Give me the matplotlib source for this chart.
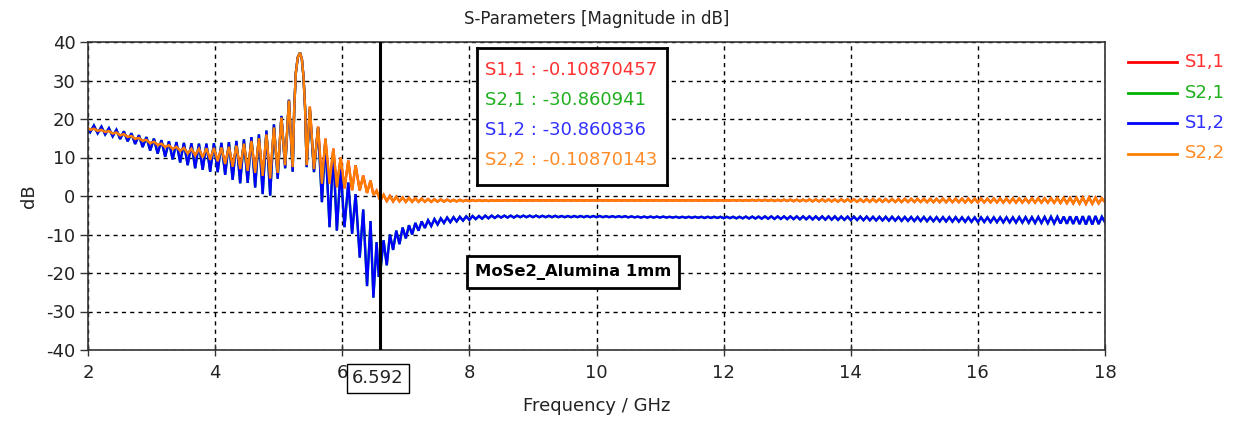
#!/usr/bin/env python3
"""S-parameter magnitude plot (MoSe2 on 1 mm alumina), redrawn in matplotlib."""

import numpy as np
import matplotlib
matplotlib.use("Agg")
import matplotlib.pyplot as plt
import matplotlib.transforms as mtransforms

# ---- data ------------------------------------------------------------------
# 2 - 6.6 GHz: peak / trough points of the ripple (GHz)
head_freq = [2.000, 2.034, 2.093, 2.152, 2.211, 2.270, 2.329, 2.388, 2.447, 2.506,
             2.565, 2.624, 2.683, 2.742, 2.801, 2.860, 2.919, 2.978, 3.037, 3.096,
             3.155, 3.214, 3.273, 3.332, 3.391, 3.450, 3.509, 3.568, 3.627, 3.686,
             3.745, 3.804, 3.863, 3.922, 3.981, 4.040, 4.099, 4.158, 4.217, 4.276,
             4.335, 4.394, 4.453, 4.512, 4.571, 4.630, 4.689, 4.748, 4.807, 4.866,
             4.925, 4.984, 5.043, 5.102, 5.161, 5.220, 5.245, 5.270, 5.300, 5.335,
             5.365, 5.390, 5.415, 5.440, 5.490, 5.555, 5.620, 5.680, 5.735, 5.800,
             5.860, 5.915, 5.975, 6.035, 6.095, 6.155, 6.210, 6.275, 6.330, 6.390,
             6.445, 6.490, 6.540, 6.575]

s12_head = [17.5, 16.6, 18.3, 16.3, 18.0, 16.0, 17.6, 15.5, 17.2, 14.8,
            16.8, 14.2, 16.3, 13.5, 15.8, 12.7, 15.3, 11.8, 14.9, 11.0,
            14.5, 10.2, 14.2, 9.5, 14.0, 8.7, 13.8, 8.0, 13.7, 7.2,
            13.6, 6.8, 13.6, 6.3, 13.7, 6.2, 13.8, 5.5, 14.0, 4.2,
            14.3, 3.3, 14.7, 3.4, 15.3, 2.2, 16.0, 0.5, 17.0, 0.1,
            18.6, 4.5, 20.8, 7.2, 25.0, 6.3, 23.0, 32.0, 36.0, 37.2,
            35.5, 31.0, 23.0, 7.5, 22.5, 6.2, 17.8, -1.6, 14.5, -8.1,
            11.5, -9.0, 7.0, -8.1, 3.5, -9.8, 0.5, -16.0, -3.5, -23.4,
            -6.5, -26.4, -12.0, -21.0]

s22_head = [17.6, 17.2, 17.5, 16.9, 17.2, 16.6, 16.9, 16.2, 16.5, 15.7,
            16.1, 15.3, 15.6, 14.8, 15.1, 14.3, 14.6, 13.7, 14.1, 13.2,
            13.6, 12.7, 13.2, 12.2, 12.8, 11.7, 12.5, 11.0, 12.3, 10.5,
            12.3, 10.0, 12.4, 9.4, 12.5, 9.0, 12.6, 8.3, 12.8, 7.6,
            13.1, 7.0, 13.6, 6.5, 14.3, 6.0, 15.0, 5.2, 16.0, 4.5,
            17.8, 6.0, 20.4, 8.0, 24.8, 7.5, 23.0, 32.0, 36.0, 37.2,
            35.5, 31.0, 23.0, 8.0, 23.2, 7.0, 18.0, 3.2, 14.9, 3.2,
            12.3, 2.3, 10.0, 2.0, 9.2, 1.5, 8.0, 1.4, 5.3, 0.8,
            4.0, 0.3, 1.4, -0.2]

# 6.6 - 18 GHz: sweep points every 0.05 GHz (one row = 0.5 GHz)
tail_start, tail_stop = 6.60, 18.00
s12_tail = [
    -19.5, -11.5, -18.0, -10.0, -14.0, -9.0, -12.5, -8.2, -11.0, -7.6,
    -10.0, -7.0, -9.0, -6.6, -8.3, -6.3, -7.8, -6.0, -7.4, -5.8,
    -7.0, -5.6, -6.8, -5.5, -6.6, -5.4, -6.4, -5.3, -6.2, -5.2,
    -6.0, -5.2, -5.9, -5.1, -5.8, -5.1, -5.7, -5.1, -5.6, -5.1,
    -5.6, -5.1, -5.6, -5.1, -5.5, -5.1, -5.5, -5.1, -5.5, -5.1,
    -5.5, -5.15, -5.5, -5.15, -5.5, -5.15, -5.5, -5.2, -5.5, -5.2,
    -5.5, -5.2, -5.5, -5.2, -5.5, -5.2, -5.5, -5.2, -5.5, -5.2,
    -5.5, -5.25, -5.5, -5.25, -5.5, -5.25, -5.5, -5.25, -5.55, -5.3,
    -5.55, -5.35, -5.6, -5.35, -5.6, -5.35, -5.6, -5.35, -5.6, -5.35,
    -5.6, -5.4, -5.6, -5.4, -5.65, -5.4, -5.65, -5.4, -5.65, -5.4,
    -5.65, -5.4, -5.7, -5.4, -5.7, -5.4, -5.7, -5.4, -5.75, -5.4,
    -5.75, -5.4, -5.8, -5.4, -5.8, -5.35, -5.85, -5.35, -5.85, -5.35,
    -5.9, -5.3, -5.9, -5.3, -5.95, -5.3, -5.95, -5.3, -6.0, -5.3,
    -6.0, -5.3, -6.05, -5.3, -6.05, -5.3, -6.1, -5.3, -6.1, -5.3,
    -6.15, -5.3, -6.15, -5.3, -6.2, -5.35, -6.2, -5.35, -6.25, -5.35,
    -6.25, -5.35, -6.3, -5.35, -6.3, -5.4, -6.35, -5.4, -6.35, -5.4,
    -6.4, -5.4, -6.4, -5.45, -6.45, -5.45, -6.45, -5.45, -6.5, -5.45,
    -6.5, -5.45, -6.55, -5.5, -6.55, -5.5, -6.6, -5.5, -6.6, -5.5,
    -6.65, -5.5, -6.65, -5.55, -6.7, -5.55, -6.7, -5.55, -6.75, -5.55,
    -6.75, -5.55, -6.8, -5.55, -6.8, -5.55, -6.85, -5.55, -6.85, -5.55,
    -6.9, -5.5, -6.9, -5.5, -6.95, -5.5, -7.0, -5.45, -7.0, -5.45,
    -7.05, -5.4, -7.1, -5.4, -7.15, -5.35, -7.2, -5.3, -7.25, -5.3,
    -7.3, -5.25, -7.4, -5.2, -7.4, -5.2, -7.3, -5.4, -6.8]

s22_tail = [
    -1.2, 0.3, -1.3, 0.0, -1.4, -0.2, -1.4, -0.4, -1.5, -0.5,
    -1.5, -0.6, -1.5, -0.7, -1.5, -0.8, -1.5, -0.85, -1.45, -0.9,
    -1.45, -0.95, -1.4, -1.0, -1.4, -1.0, -1.35, -1.05, -1.35, -1.05,
    -1.3, -1.05, -1.3, -1.1, -1.3, -1.1, -1.25, -1.1, -1.25, -1.1,
    -1.2, -1.1, -1.2, -1.1, -1.2, -1.1, -1.2, -1.1, -1.2, -1.1,
    -1.2, -1.1, -1.2, -1.1, -1.2, -1.1, -1.2, -1.1, -1.2, -1.1,
    -1.2, -1.1, -1.2, -1.1, -1.2, -1.1, -1.2, -1.1, -1.2, -1.1,
    -1.2, -1.1, -1.2, -1.1, -1.2, -1.1, -1.2, -1.1, -1.2, -1.1,
    -1.2, -1.1, -1.2, -1.1, -1.2, -1.1, -1.2, -1.1, -1.2, -1.1,
    -1.2, -1.1, -1.2, -1.1, -1.2, -1.1, -1.2, -1.1, -1.2, -1.1,
    -1.2, -1.1, -1.2, -1.1, -1.2, -1.1, -1.2, -1.1, -1.2, -1.1,
    -1.2, -1.05, -1.2, -1.05, -1.25, -1.05, -1.25, -1.0, -1.25, -1.0,
    -1.25, -1.0, -1.25, -1.0, -1.3, -1.0, -1.3, -0.95, -1.3, -0.95,
    -1.35, -0.95, -1.35, -0.95, -1.35, -0.9, -1.4, -0.9, -1.4, -0.9,
    -1.4, -0.9, -1.4, -0.9, -1.45, -0.85, -1.45, -0.85, -1.45, -0.85,
    -1.5, -0.85, -1.5, -0.8, -1.5, -0.8, -1.5, -0.8, -1.5, -0.8,
    -1.5, -0.8, -1.55, -0.8, -1.55, -0.75, -1.55, -0.75, -1.55, -0.75,
    -1.55, -0.75, -1.6, -0.75, -1.6, -0.75, -1.6, -0.7, -1.6, -0.7,
    -1.6, -0.7, -1.6, -0.7, -1.65, -0.7, -1.65, -0.7, -1.65, -0.7,
    -1.65, -0.7, -1.65, -0.65, -1.65, -0.65, -1.7, -0.65, -1.7, -0.65,
    -1.7, -0.65, -1.7, -0.65, -1.7, -0.6, -1.7, -0.6, -1.7, -0.6,
    -1.7, -0.6, -1.75, -0.55, -1.8, -0.5, -1.85, -0.5, -1.9, -0.45,
    -1.95, -0.4, -2.0, -0.4, -2.0, -0.45, -1.9, -0.6, -1.6]

marker_freq = 6.592
marker_vals = [("S1,1", "-0.10870457"), ("S2,1", "-30.860941"),
               ("S1,2", "-30.860836"), ("S2,2", "-0.10870143")]

series_names = ["S1,1", "S2,1", "S1,2", "S2,2"]
line_colors = {"S1,1": "#ff0000", "S2,1": "#00b400", "S1,2": "#0000ff", "S2,2": "#ff8000"}
text_colors = {"S1,1": "#ff3030", "S2,1": "#20b020", "S1,2": "#3030ff", "S2,2": "#ff8c28"}

FS = 13  # matches the Tahoma-ish text size of the original


def main():
    plt.rcParams["font.family"] = ["DejaVu Sans"]
    plt.rcParams["font.size"] = FS
    plt.rcParams["axes.unicode_minus"] = False

    tail_freq = np.linspace(tail_start, tail_stop, len(s12_tail))
    tail_freq22 = np.linspace(tail_start, tail_stop, len(s22_tail))
    f12 = np.concatenate([head_freq, tail_freq])
    f22 = np.concatenate([head_freq, tail_freq22])
    y12 = np.concatenate([s12_head, s12_tail])
    y22 = np.concatenate([s22_head, s22_tail])
    # reciprocal / symmetric structure: S1,1 ~ S2,2 and S2,1 ~ S1,2
    curves = {"S1,1": (f22, y22), "S2,1": (f12, y12),
              "S1,2": (f12, y12), "S2,2": (f22, y22)}

    fig = plt.figure(figsize=(12.37, 4.21), dpi=100)
    ax = fig.add_axes([88 / 1237, 1 - 350 / 421, 1017 / 1237, 308 / 421])

    for name in series_names:
        f, y = curves[name]
        ax.plot(f, y, color=line_colors[name], lw=1.7, solid_joinstyle="miter")

    ax.set_xlim(2, 18)
    ax.set_ylim(-40, 40)
    ax.set_xticks(np.arange(2, 19, 2))
    ax.set_yticks(np.arange(-40, 41, 10))
    ax.grid(True, color="black", linestyle=(0, (3, 3)), linewidth=1.0)
    ax.tick_params(axis="y", direction="out", length=6, width=1, colors="#333333",
                   labelcolor="#222222", pad=3)
    ax.tick_params(axis="x", direction="inout", length=8, width=1, colors="#333333",
                   labelcolor="#222222", pad=6)
    for sp in ax.spines.values():
        sp.set_color("#333333")
        sp.set_linewidth(1.2)

    ax.set_xlabel("Frequency / GHz", color="#222222", labelpad=11)
    ax.set_ylabel("dB", color="#222222", labelpad=6)
    ax.set_title("S-Parameters [Magnitude in dB]", color="#222222", fontsize=12, pad=13)

    # marker line and its frequency readout
    ax.axvline(marker_freq, color="black", lw=2.2, zorder=5)
    trans = mtransforms.blended_transform_factory(ax.transData, ax.transAxes)
    ax.text(marker_freq - 0.03, -0.092, f"{marker_freq:.3f}", transform=trans,
            ha="center", va="center", color="#222222", zorder=6,
            bbox=dict(boxstyle="square,pad=0.3", fc="white", ec="black", lw=1))

    # marker values box
    bx = fig.add_axes([477 / 1237, 1 - 185 / 421, (667 - 477) / 1237, (185 - 48) / 421])
    bx.set_xticks([])
    bx.set_yticks([])
    for sp in bx.spines.values():
        sp.set_linewidth(2)
        sp.set_color("black")
    for i, (n, v) in enumerate(marker_vals):
        bx.text(0.04, 0.84 - i * 0.22, f"{n} : {v}", color=text_colors[n],
                ha="left", va="center", fontsize=FS, transform=bx.transAxes)

    # curve label box
    ax.text(9.63, -19.7, "MoSe2_Alumina 1mm", ha="center", va="center",
            fontsize=11.8, fontweight="bold", color="black", zorder=6,
            bbox=dict(boxstyle="square,pad=0.5", fc="white", ec="black", lw=2))

    # legend on the right
    for i, name in enumerate(series_names):
        yy = 1 - (62 + i * 30.5) / 421
        fig.add_artist(plt.Line2D([1128 / 1237, 1177 / 1237], [yy, yy],
                                  color=line_colors[name], lw=2))
        fig.text(1185 / 1237, yy, name, color=text_colors[name], ha="left",
                 va="center", fontsize=FS)

    fig.savefig("out.png", dpi=100)


if __name__ == "__main__":
    main()
